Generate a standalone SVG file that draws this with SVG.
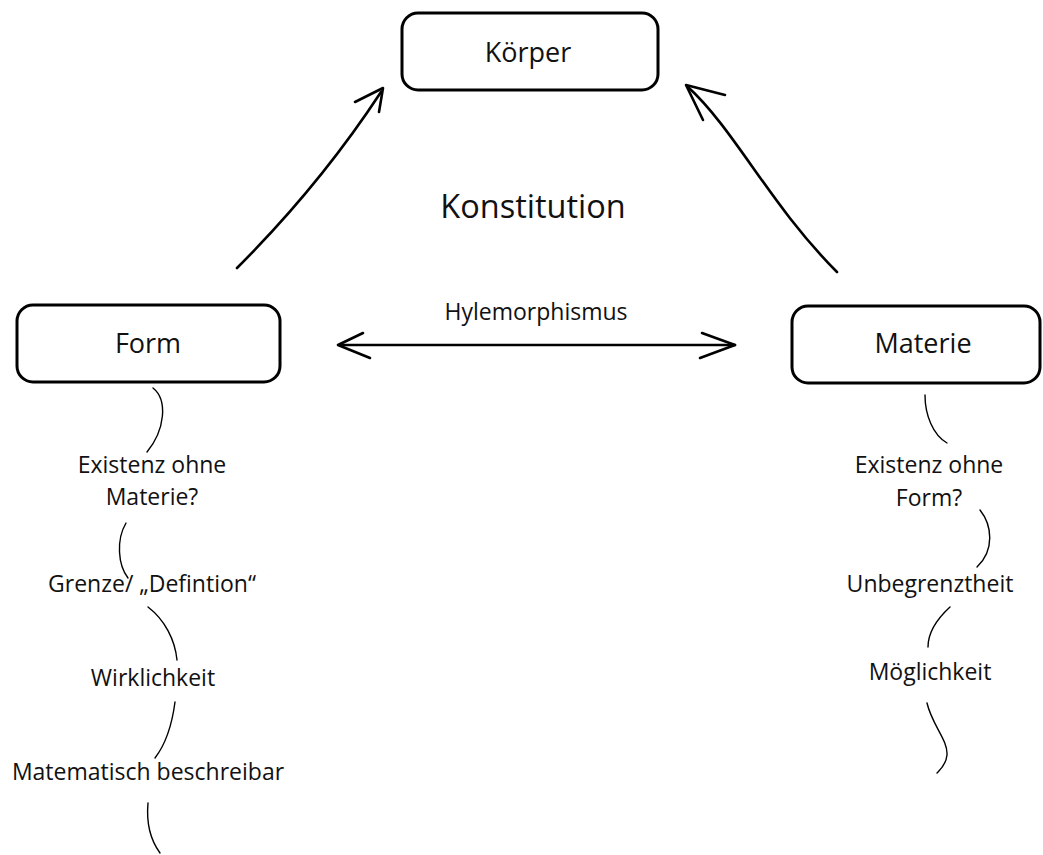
<svg xmlns="http://www.w3.org/2000/svg" width="1043" height="855" viewBox="0 0 1043 855">
<style>
.box{fill:#fff;stroke:#000;stroke-width:3}
.t{font-family:"Open Sans","Liberation Sans",sans-serif;fill:#111;text-anchor:middle}
.big{font-size:27px}
.mid{font-size:23px}
.sm{font-size:23px}
.sq{fill:none;stroke:#000;stroke-width:1.4;stroke-linecap:round}
.ar{fill:none;stroke:#000;stroke-width:2.6;stroke-linecap:round;stroke-linejoin:round}
</style>
<rect width="1043" height="855" fill="#fff"/>
<g id="koerper">
<rect class="box" x="402" y="13" width="256" height="77" rx="16"/>
<text class="t big" x="528" y="62">Körper</text>
</g>
<g id="form">
<rect class="box" x="17" y="305" width="263" height="77" rx="16"/>
<text class="t big" x="148" y="353">Form</text>
</g>
<g id="materie">
<rect class="box" x="792" y="306" width="248" height="77" rx="16"/>
<text class="t big" x="923" y="353">Materie</text>
</g>
<g id="konstitution">
<text class="t" style="font-size:32.5px" x="533" y="218">Konstitution</text>
</g>
<g id="hylemorphismus">
<text class="t mid" x="536" y="320">Hylemorphismus</text>
</g>
<g id="form-props">
<text class="t sm" x="152" y="473">Existenz ohne</text>
<text class="t sm" x="152" y="505">Materie?</text>
<text class="t sm" x="152" y="592">Grenze/ „Defintion“</text>
<text class="t sm" x="153" y="686">Wirklichkeit</text>
<text class="t sm" x="148" y="780">Matematisch beschreibar</text>
</g>
<g id="materie-props">
<text class="t sm" x="929" y="473">Existenz ohne</text>
<text class="t sm" x="929" y="506">Form?</text>
<text class="t sm" x="930" y="592">Unbegrenztheit</text>
<text class="t sm" x="930" y="680">Möglichkeit</text>
</g>
<g id="connectors">
<path class="ar" d="M237,268 Q320,185 381,92"/>
<polyline class="ar" points="355,102 383,88 379,112"/>
<path class="ar" d="M837,272 C770,205 735,130 688,87"/>
<polyline class="ar" points="725,95 686,85 703,120"/>
<path class="ar" d="M340,345 L735,345"/>
<polyline class="ar" points="363,333 338,345 370,358"/>
<polyline class="ar" points="702,333 735,345 700,358"/>
<path class="sq" d="M153,388 C168,400 165,430 147,452"/>
<path class="sq" d="M126,523 C116,540 118,565 128,578"/>
<path class="sq" d="M148,607 C165,620 175,640 177,660"/>
<path class="sq" d="M175,702 C172,725 165,745 155,758"/>
<path class="sq" d="M148,803 C146,825 152,842 160,853"/>
<path class="sq" d="M925,395 C925,415 933,435 947,443"/>
<path class="sq" d="M980,510 C992,525 995,550 977,567"/>
<path class="sq" d="M950,607 C938,618 928,632 928,647"/>
<path class="sq" d="M927,703 C932,725 948,740 947,755 C946,765 940,770 937,773"/>
</g>
</svg>
